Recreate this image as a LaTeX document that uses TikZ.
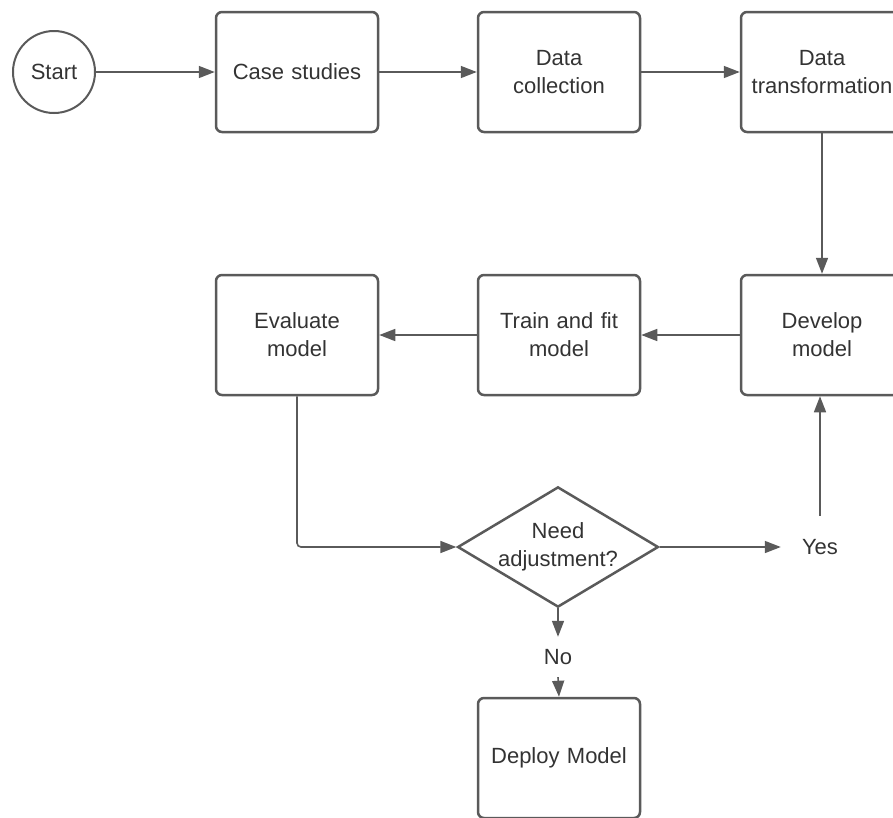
\documentclass[tikz,border=0pt]{standalone}
\usepackage{fontspec}
\setmainfont{Liberation Sans}
\usetikzlibrary{arrows.meta,shapes.geometric}
\definecolor{linegray}{HTML}{5A5A5A}
\definecolor{textgray}{HTML}{333333}
\tikzstyle{process} = [rectangle, rounded corners=6pt, minimum width=162pt, minimum height=120pt, text width=154pt, align=center, draw=linegray, line width=2.5pt, text=textgray, font=\fontsize{22}{28}\selectfont]
\tikzstyle{decision} = [diamond, aspect=1.67, minimum width=198pt, minimum height=119pt, inner sep=0pt, align=center, draw=linegray, line width=2.5pt, text=textgray, font=\fontsize{22}{28}\selectfont]
\tikzstyle{label} = [text=textgray, font=\fontsize{22}{28}\selectfont]

\begin{document}
\begin{tikzpicture}[x=1pt,y=-1pt]
        \clip (0,0) rectangle (893,817);
        \node[circle, minimum size=82pt, inner sep=0pt, draw=linegray, line width=2pt, label] (start) at (54,72) {Start};
        \node[process] (case) at (297,72) {Case studies};
        \node[process] (collect) at (559,72) {Data\\collection};
        \node[process] (transform) at (822,72) {Data\\transformation};
        \node[process] (evaluate) at (297,335) {Evaluate\\model};
        \node[process] (train) at (559,335) {Train and fit\\model};
        \node[process] (develop) at (822,335) {Develop\\model};
        \node[decision] (adjust) at (558,547) {Need\\adjustment?};
        \node[label, minimum width=78pt, minimum height=62pt] (yes) at (820,547) {Yes};
        \node[label, minimum height=40pt] (no) at (558,657) {No};
        \node[process] (deploy) at (559,758) {Deploy Model};
        \begin{scope}[-{Triangle[length=16pt,width=12pt]}, draw=linegray, line width=1.6pt]
            \draw (start) -- (case);
            \draw (case) -- (collect);
            \draw (collect) -- (transform);
            \draw (transform.south -| develop.north) -- (develop.north);
            \draw (develop) -- (train);
            \draw (train) -- (evaluate);
            \draw[rounded corners=4pt] (evaluate.south) |- (adjust.west);
            \draw (adjust.east) -- (yes.west);
            \draw (yes.north) -- (yes.north |- develop.south);
            \draw (adjust.south) -- (no.north);
            \draw (no.south) -- (deploy.north);
        \end{scope}
    \end{tikzpicture}
\end{document}
